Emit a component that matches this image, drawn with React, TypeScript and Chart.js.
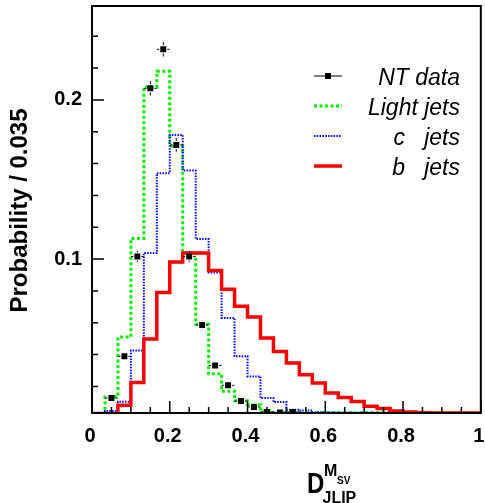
import React, { useEffect, useRef } from "react";
import { Chart, registerables } from "chart.js";

Chart.register(...registerables);

// ---- data ----
const X_MIN = 0;
const X_MAX = 1;
const BIN_COUNT = 30;
const Y_MIN = 0.0033;
const Y_MAX = 0.259;

const lightJets = [
  0.003, 0.0134, 0.051, 0.113, 0.208, 0.218, 0.171, 0.104, 0.059, 0.028,
  0.017, 0.011, 0.0085, 0.0045, 0.0036, 0.0036, 0.0035, 0.0035, 0.0035, 0.0035,
  0.0034, 0.0034, 0.0034, 0.0034, 0.0033, 0.0033, 0.0033, 0.0033, 0.0033, 0.0033,
];
const cJets = [
  0.003, 0.0045, 0.0104, 0.0426, 0.1038, 0.154, 0.178, 0.1556, 0.1126, 0.0916,
  0.063, 0.0389, 0.0263, 0.0127, 0.0102, 0.0054, 0.0048, 0.0038, 0.0036, 0.0035,
  0.0035, 0.0034, 0.0034, 0.0034, 0.0033, 0.0033, 0.0033, 0.0033, 0.0033, 0.0033,
];
const bJets = [
  0.003, 0.003, 0.0081, 0.0224, 0.0498, 0.079, 0.0981, 0.1038, 0.1038, 0.0929,
  0.0811, 0.0703, 0.0636, 0.0504, 0.042, 0.0347, 0.0274, 0.0222, 0.0159, 0.0131,
  0.0106, 0.0075, 0.0062, 0.0046, 0.004, 0.0034, 0.0033, 0.0033, 0.0033, 0.0033,
];

const ntBins = [1, 2, 3, 4, 5, 6, 7, 8, 9, 10, 11, 12, 13, 14, 15];
const ntData = [
  0.0127, 0.0389, 0.1016, 0.2073, 0.2318, 0.1717, 0.1016, 0.0586, 0.0332, 0.0207,
  0.0108, 0.0071, 0.004, 0.0037, 0.004,
];
const ntErr = [
  0.0015, 0.0025, 0.0035, 0.0046, 0.0046, 0.0043, 0.0035, 0.0028, 0.0022, 0.0018,
  0.0015, 0.0012, 0.001, 0.001, 0.001,
];

const xMajorTicks = [0, 0.2, 0.4, 0.6, 0.8, 1];
const xTickLabels = ["0", "0.2", "0.4", "0.6", "0.8", "1"];
const xMinorTicks = [0.05, 0.1, 0.15, 0.25, 0.3, 0.35, 0.45, 0.5, 0.55, 0.65, 0.7, 0.75, 0.85, 0.9, 0.95];
const yMajorTicks = [0.1, 0.2];
const yTickLabels = ["0.1", "0.2"];
const yMinorTicks = [0.02, 0.04, 0.06, 0.08, 0.12, 0.14, 0.16, 0.18, 0.22, 0.24];

const legendLabels = ["NT data", "Light jets", "c   jets", "b   jets"];
const yTitle = "Probability / 0.035";
const xTitleMain = "D";
const xTitleSup = "M";
const xTitleSupSub = "SV";
const xTitleSub = "JLIP";

const FONT = '"Liberation Sans", Arial, Helvetica, sans-serif';

const GREEN = "#00f000";
const BLUE = "#0000ff";
const RED = "#ff0000";

function binWidth() {
  return (X_MAX - X_MIN) / BIN_COUNT;
}

function histPoints(values: number[]) {
  const w = binWidth();
  const pts = values.map((v, i) => ({ x: X_MIN + i * w, y: v }));
  pts.push({ x: X_MAX, y: values[values.length - 1] });
  return pts;
}

const decorPlugin = {
  id: "rootDecor",
  afterDraw(chart: any) {
    const ctx = chart.ctx as CanvasRenderingContext2D;
    const xs = chart.scales.x;
    const ys = chart.scales.y;
    const area = chart.chartArea;
    const w = binWidth();

    ctx.save();
    // error bars
    ctx.strokeStyle = "#111";
    ctx.lineWidth = 1;
    const gap = 4;
    ntBins.forEach((b, i) => {
      const xc = xs.getPixelForValue(X_MIN + (b + 0.5) * w);
      const xl = xs.getPixelForValue(X_MIN + b * w);
      const xr = xs.getPixelForValue(X_MIN + (b + 1) * w);
      const yc = ys.getPixelForValue(ntData[i]);
      const yt = ys.getPixelForValue(ntData[i] + ntErr[i]);
      const yb = Math.min(ys.getPixelForValue(ntData[i] - ntErr[i]), area.bottom);
      ctx.beginPath();
      ctx.moveTo(xl, yc);
      ctx.lineTo(xc - gap, yc);
      ctx.moveTo(xc + gap, yc);
      ctx.lineTo(xr, yc);
      if (yc - yt > gap) {
        ctx.moveTo(xc, yt);
        ctx.lineTo(xc, yc - gap);
      }
      if (yb - yc > gap) {
        ctx.moveTo(xc, yc + gap);
        ctx.lineTo(xc, yb);
      }
      ctx.stroke();
    });

    // frame
    ctx.strokeStyle = "#000";
    ctx.lineWidth = 2;
    ctx.strokeRect(area.left, area.top, area.right - area.left, area.bottom - area.top);

    // inward ticks
    ctx.lineWidth = 1.5;
    ctx.beginPath();
    xMajorTicks.forEach((v) => {
      const p = xs.getPixelForValue(v);
      ctx.moveTo(p, area.bottom);
      ctx.lineTo(p, area.bottom - 12);
    });
    xMinorTicks.forEach((v) => {
      const p = xs.getPixelForValue(v);
      ctx.moveTo(p, area.bottom);
      ctx.lineTo(p, area.bottom - 6);
    });
    yMajorTicks.forEach((v) => {
      const p = ys.getPixelForValue(v);
      ctx.moveTo(area.left, p);
      ctx.lineTo(area.left + 12, p);
    });
    yMinorTicks.forEach((v) => {
      const p = ys.getPixelForValue(v);
      ctx.moveTo(area.left, p);
      ctx.lineTo(area.left + 6, p);
    });
    ctx.stroke();

    // legend
    const lx0 = 314;
    const lx1 = 342;
    const textRight = 460;
    const rowY = [76, 106, 136, 166];
    ctx.font = `italic 23px ${FONT}`;
    ctx.textAlign = "right";
    ctx.textBaseline = "alphabetic";
    ctx.fillStyle = "#000";
    legendLabels.forEach((lab, i) => {
      const y = rowY[i];
      ctx.save();
      ctx.beginPath();
      if (i === 0) {
        ctx.strokeStyle = "#000";
        ctx.lineWidth = 1;
        ctx.setLineDash([]);
        ctx.moveTo(lx0, y);
        ctx.lineTo(lx1, y);
        ctx.stroke();
        ctx.fillStyle = "#000";
        ctx.fillRect((lx0 + lx1) / 2 - 3, y - 3, 6, 6);
      } else if (i === 1) {
        ctx.strokeStyle = GREEN;
        ctx.lineWidth = 3;
        ctx.setLineDash([3, 2.5]);
        ctx.moveTo(lx0, y);
        ctx.lineTo(lx1, y);
        ctx.stroke();
      } else if (i === 2) {
        ctx.strokeStyle = BLUE;
        ctx.lineWidth = 2;
        ctx.setLineDash([1.5, 1.3]);
        ctx.moveTo(lx0, y);
        ctx.lineTo(lx1, y);
        ctx.stroke();
      } else {
        ctx.strokeStyle = RED;
        ctx.lineWidth = 3.5;
        ctx.setLineDash([]);
        ctx.moveTo(lx0, y);
        ctx.lineTo(lx1, y);
        ctx.stroke();
      }
      ctx.restore();
      ctx.fillText(lab, textRight, y + 8.5);
    });

    // y title
    ctx.save();
    ctx.translate(27, 210.5);
    ctx.rotate(-Math.PI / 2);
    ctx.font = `bold 24px ${FONT}`;
    ctx.textAlign = "center";
    ctx.textBaseline = "alphabetic";
    ctx.fillText(yTitle, 0, 0);
    ctx.restore();

    // x title
    ctx.textAlign = "left";
    ctx.textBaseline = "alphabetic";
    ctx.save();
    ctx.translate(307, 493);
    ctx.scale(0.8, 1);
    ctx.font = `bold 30px ${FONT}`;
    ctx.fillText(xTitleMain, 0, 0);
    ctx.restore();
    ctx.font = `bold 16px ${FONT}`;
    ctx.fillText(xTitleSup, 324, 476);
    ctx.fillText(xTitleSub, 322.5, 502.5);
    ctx.font = `bold 10px ${FONT}`;
    ctx.fillText(xTitleSupSub, 337, 483.5);

    ctx.restore();
  },
};

export default function App() {
  const canvasRef = useRef<HTMLCanvasElement | null>(null);

  useEffect(() => {
    const canvas = canvasRef.current;
    if (!canvas) return;
    const ntPoints = ntBins.map((b, i) => ({ x: X_MIN + (b + 0.5) * binWidth(), y: ntData[i] }));

    const chart = new Chart(canvas, {
      type: "line",
      data: {
        datasets: [
          {
            type: "scatter",
            label: legendLabels[0],
            data: ntPoints,
            pointStyle: "rect",
            pointRadius: 4.2,
            pointBackgroundColor: "#000",
            pointBorderColor: "#000",
            pointBorderWidth: 0,
            showLine: false,
            order: 0,
          } as any,
          {
            label: legendLabels[3],
            data: histPoints(bJets),
            stepped: true,
            borderColor: RED,
            borderWidth: 3.5,
            pointRadius: 0,
            fill: false,
            order: 1,
          },
          {
            label: legendLabels[2],
            data: histPoints(cJets),
            stepped: true,
            borderColor: BLUE,
            borderWidth: 2,
            borderDash: [1.5, 1.3],
            pointRadius: 0,
            fill: false,
            order: 2,
          },
          {
            label: legendLabels[1],
            data: histPoints(lightJets),
            stepped: true,
            borderColor: GREEN,
            borderWidth: 3,
            borderDash: [3, 2.5],
            pointRadius: 0,
            fill: false,
            order: 3,
          },
        ],
      },
      options: {
        animation: false,
        responsive: false,
        devicePixelRatio: 1,
        layout: { padding: { top: 6, right: 2.5, left: 0, bottom: 0 } },
        plugins: {
          legend: { display: false },
          tooltip: { enabled: false },
        },
        scales: {
          x: {
            type: "linear",
            min: X_MIN,
            max: X_MAX,
            grid: { display: false, drawTicks: false },
            border: { display: false },
            afterBuildTicks: (s: any) => {
              s.ticks = xMajorTicks.map((v) => ({ value: v }));
            },
            afterFit: (s: any) => {
              s.height = 90;
              s.paddingLeft = 0;
              s.paddingRight = 0;
            },
            ticks: {
              autoSkip: false,
              maxRotation: 0,
              minRotation: 0,
              padding: 11,
              labelOffset: -2,
              color: "#000",
              font: { family: FONT, size: 20, weight: "bold" },
              callback: (v: any) => {
                const idx = xMajorTicks.findIndex((t) => Math.abs(t - Number(v)) < 1e-9);
                return idx >= 0 ? xTickLabels[idx] : "";
              },
            },
          },
          y: {
            type: "linear",
            min: Y_MIN,
            max: Y_MAX,
            grid: { display: false, drawTicks: false },
            border: { display: false },
            afterBuildTicks: (s: any) => {
              s.ticks = yMajorTicks.map((v) => ({ value: v }));
            },
            afterFit: (s: any) => {
              s.width = 92;
              s.paddingTop = 0;
              s.paddingBottom = 0;
            },
            ticks: {
              autoSkip: false,
              padding: 10,
              color: "#000",
              font: { family: FONT, size: 20, weight: "bold" },
              callback: (v: any) => {
                const idx = yMajorTicks.findIndex((t) => Math.abs(t - Number(v)) < 1e-9);
                return idx >= 0 ? yTickLabels[idx] : "";
              },
            },
          },
        },
      } as any,
      plugins: [decorPlugin],
    });

    return () => {
      chart.destroy();
    };
  }, []);

  return (
    <div style={{ position: "absolute", left: 0, top: 0, width: 485, height: 503, background: "#fff" }}>
      <canvas ref={canvasRef} width={485} height={503} style={{ display: "block" }} />
    </div>
  );
}
